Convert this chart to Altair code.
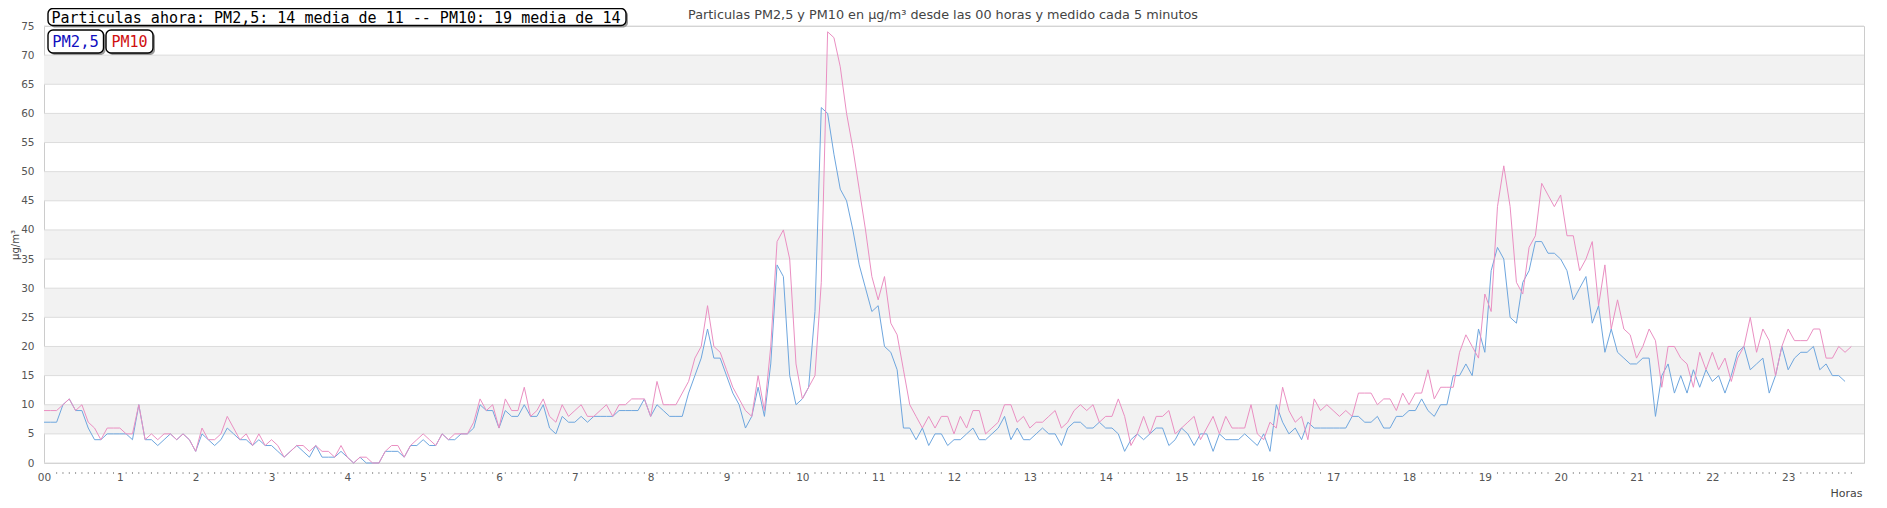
import altair as alt
import pandas as pd

# ---------------- data ----------------
pm10 = [
    9, 9, 9, 10, 11, 9, 10, 7, 6, 4,
    6, 6, 6, 5, 5, 10, 4, 5, 4, 5,
    5, 4, 5, 4, 2, 6, 4, 4, 5, 8,
    6, 4, 5, 3, 5, 3, 4, 3, 1, 2,
    3, 3, 2, 3, 2, 2, 1, 3, 1, 0,
    1, 1, 0, 0, 2, 3, 3, 1, 3, 4,
    5, 4, 3, 5, 4, 5, 5, 5, 7, 11,
    9, 10, 6, 11, 9, 9, 13, 8, 9, 11,
    8, 7, 10, 8, 9, 10, 8, 8, 9, 10,
    8, 10, 10, 11, 11, 11, 8, 14, 10, 10,
    10, 12, 14, 18, 20, 27, 20, 19, 16, 13,
    11, 9, 8, 15, 9, 20, 38, 40, 35, 17,
    11, 13, 15, 31, 74, 73, 68, 60, 54, 47,
    40, 32, 28, 32, 24, 22, 16, 10, 8, 6,
    8, 6, 8, 8, 5, 8, 6, 9, 9, 5,
    6, 7, 10, 10, 7, 8, 6, 7, 7, 8,
    9, 6, 7, 9, 10, 9, 10, 7, 8, 8,
    11, 8, 3, 5, 8, 5, 8, 8, 9, 5,
    6, 7, 8, 4, 6, 8, 5, 8, 6, 6,
    6, 10, 5, 4, 7, 6, 13, 9, 7, 8,
    4, 11, 9, 10, 9, 8, 9, 8, 12, 12,
    12, 10, 11, 11, 9, 12, 10, 12, 12, 16,
    11, 13, 13, 13, 19, 22, 20, 18, 29, 26,
    44, 51, 44, 31, 29, 37, 39, 48, 46, 44,
    46, 39, 39, 33, 35, 38, 27, 34, 23, 28,
    23, 22, 18, 20, 23, 21, 13, 20, 20, 18,
    17, 13, 19, 16, 19, 16, 18, 14, 18, 20,
    25, 19, 23, 21, 15, 20, 23, 21, 21, 21,
    23, 23, 18, 18, 20, 19, 20,
]

pm25 = [
    7, 7, 7, 10, 11, 9, 9, 6, 4, 4,
    5, 5, 5, 5, 4, 10, 4, 4, 3, 4,
    5, 4, 5, 4, 2, 5, 4, 3, 4, 6,
    5, 4, 4, 3, 4, 3, 3, 2, 1, 2,
    3, 2, 1, 3, 1, 1, 1, 2, 1, 0,
    1, 0, 0, 0, 2, 2, 2, 1, 3, 3,
    4, 3, 3, 5, 4, 4, 5, 5, 6, 10,
    9, 9, 6, 9, 8, 8, 10, 8, 8, 10,
    6, 5, 8, 7, 7, 8, 7, 8, 8, 8,
    8, 9, 9, 9, 9, 11, 8, 10, 9, 8,
    8, 8, 12, 15, 18, 23, 18, 18, 15, 12,
    10, 6, 8, 13, 8, 17, 34, 32, 15, 10,
    11, 13, 26, 61, 60, 53, 47, 45, 40, 34,
    30, 26, 27, 20, 19, 16, 6, 6, 4, 6,
    3, 5, 5, 3, 4, 4, 5, 6, 4, 4,
    5, 6, 8, 4, 6, 4, 4, 5, 6, 5,
    5, 3, 6, 7, 7, 6, 6, 7, 6, 6,
    5, 2, 4, 5, 4, 5, 6, 6, 3, 4,
    6, 5, 3, 5, 5, 2, 5, 4, 4, 4,
    5, 4, 3, 5, 2, 10, 7, 5, 6, 4,
    7, 6, 6, 6, 6, 6, 6, 8, 8, 7,
    7, 8, 6, 6, 8, 8, 9, 9, 11, 9,
    8, 10, 10, 15, 15, 17, 15, 23, 19, 33,
    37, 35, 25, 24, 31, 33, 38, 38, 36, 36,
    35, 33, 28, 30, 32, 24, 27, 19, 23, 19,
    18, 17, 17, 18, 18, 8, 15, 17, 12, 15,
    12, 16, 13, 16, 14, 15, 12, 15, 19, 20,
    16, 17, 18, 12, 15, 20, 16, 18, 19, 19,
    20, 16, 17, 15, 15, 14,
]

series_names = ["PM2,5", "PM10"]
y_ticks = list(range(0, 80, 5))
hour_ticks = list(range(24))
minutes_per_step = 5
title_text = "Particulas PM2,5 y PM10 en µg/m³ desde las 00 horas y medido cada 5 minutos"
status_text = "Particulas ahora: PM2,5: 14 media de 11 -- PM10: 19 media de 14"
y_title = "µg/m³"
x_title = "Horas"

# ---------------- tables ----------------
def series_df(vals, name):
    return pd.DataFrame({
        "hora": [k * minutes_per_step / 60 for k in range(len(vals))],
        "valor": vals,
        "serie": name,
    })

df25 = series_df(pm25, series_names[0])
df10 = series_df(pm10, series_names[1])

steps_per_hour = 60 // minutes_per_step
dot_steps = []
for k in range(1, 24 * steps_per_hour + 1):
    r = k % steps_per_hour
    h = k // steps_per_hour
    if r == 0:
        continue
    if k == 1:
        continue
    if h >= 9 and r == steps_per_hour - 1:
        continue
    if h >= 10 and r == 1:
        continue
    dot_steps.append(k / steps_per_hour)
dots_df = pd.DataFrame({"hora": dot_steps})

bands_df = pd.DataFrame({"lo": y_ticks[1:-1:2], "hi": y_ticks[2::2]})
grid_df = pd.DataFrame({"valor": y_ticks})
one = pd.DataFrame({"t": [""]})

# ---------------- styling ----------------
W, H = 1820, 437
FONT = "DejaVu Sans"
MONO = "DejaVu Sans Mono"
BLUE = "#6ea6de"
PINK = "#ea8fc2"

xscale = alt.Scale(domain=[0, 24], nice=False, zero=False)
yscale = alt.Scale(domain=[0, 75], nice=False)

xaxis = alt.Axis(
    values=hour_ticks, format="d",
    labelExpr="datum.value == 0 ? '00' : datum.label",
    ticks=False, tickSize=0, domain=False, grid=False,
    labelFlush=False, labelOverlap=False,
    labelPadding=14, labelBaseline="middle", labelAlign="center",
    labelFont=FONT, labelFontSize=10.5, labelColor="#555555",
    title=x_title, titleFont=FONT, titleFontSize=11, titleFontWeight="normal",
    titleColor="#444444", titleAlign="right", titleBaseline="middle",
    titleX=W - 2, titleY=30, titleAnchor="end",
)
yaxis = alt.Axis(
    values=y_ticks, ticks=False, tickSize=0, domain=False, grid=False,
    labelFlush=False, labelOverlap=False, labelPadding=10,
    labelFont=FONT, labelFontSize=10.5, labelColor="#555555",
    title=y_title, titleFont=FONT, titleFontSize=10, titleFontWeight="normal",
    titleColor="#444444", titleAngle=270, titleAlign="center",
    titleBaseline="middle", titleX=-29, titleY=H / 2,
)

X = alt.X("hora:Q", scale=xscale, axis=xaxis)

bands = alt.Chart(bands_df).mark_rect(color="#f2f2f2").encode(
    x=alt.value(0), x2=alt.value(W),
    y=alt.Y("lo:Q", scale=yscale, axis=yaxis), y2="hi:Q",
)
grid = alt.Chart(grid_df).mark_rule(color="#dcdcdc", strokeWidth=1).encode(
    x=alt.value(0), x2=alt.value(W),
    y=alt.Y("valor:Q", scale=yscale, axis=yaxis),
)
dots = alt.Chart(dots_df).mark_tick(color="#777777", size=2, thickness=1).encode(
    x=X, y=alt.value(H + 10),
)

color = alt.Color("serie:N", scale=alt.Scale(domain=series_names, range=[BLUE, PINK]), legend=None)
line25 = alt.Chart(df25).mark_line(strokeWidth=1).encode(
    x=X, y=alt.Y("valor:Q", scale=yscale, axis=yaxis), color=color,
)
line10 = alt.Chart(df10).mark_line(strokeWidth=1).encode(
    x=X, y=alt.Y("valor:Q", scale=yscale, axis=yaxis), color=color,
)

title = alt.Chart(one).mark_text(
    font=FONT, fontSize=12.8, color="#444444", align="center", baseline="middle",
).encode(x=alt.value(899), y=alt.value(-11), text=alt.value(title_text))

def box(x0, x1, y0, y1):
    shadow = alt.Chart(one).mark_rect(cornerRadius=5, fill="#9a9a9a").encode(
        x=alt.value(x0 + 2), x2=alt.value(x1 + 2), y=alt.value(y0 + 2), y2=alt.value(y1 + 2))
    face = alt.Chart(one).mark_rect(cornerRadius=5, fill="white", stroke="black", strokeWidth=1.4).encode(
        x=alt.value(x0), x2=alt.value(x1), y=alt.value(y0), y2=alt.value(y1))
    return [shadow, face]

status_box = box(4, 582, -17.5, -0.5)
status_txt = alt.Chart(one).mark_text(
    font=MONO, fontSize=15, color="black", align="center", baseline="middle",
).encode(x=alt.value(292), y=alt.value(-8.5), text=alt.value(status_text))

b25 = box(4, 59.5, 4, 27)
t25 = alt.Chart(one).mark_text(
    font=MONO, fontSize=15.5, color="#1010c0", align="center", baseline="middle",
).encode(x=alt.value(31.5), y=alt.value(15.5), text=alt.value(series_names[0]))
b10 = box(62, 109, 4, 27)
t10 = alt.Chart(one).mark_text(
    font=MONO, fontSize=15, color="#d01010", align="center", baseline="middle",
).encode(x=alt.value(85.5), y=alt.value(15.5), text=alt.value(series_names[1]))

chart = alt.layer(
    bands, grid, dots, line25, line10, title,
    *status_box, status_txt, *b25, t25, *b10, t10,
).properties(
    width=W, height=H,
    autosize=alt.AutoSizeParams(type="none"),
    padding={"left": 36, "top": 18, "right": 15, "bottom": 37},
    background="white",
).configure_view(
    stroke="#cccccc", strokeWidth=1,
)

chart.save("out.html", embed_options={"renderer": "svg", "actions": False})
